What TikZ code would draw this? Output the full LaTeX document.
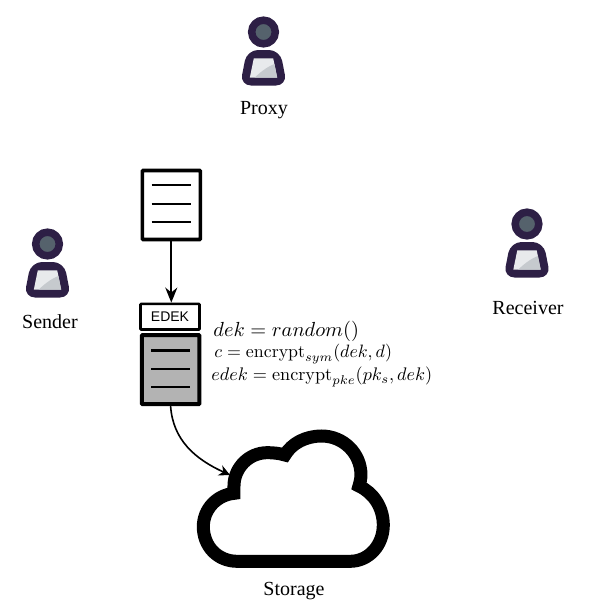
\documentclass[tikz,border=0pt]{standalone}
\usepackage{amsmath}
\usepackage[no-math]{fontspec}
\setmainfont{Liberation Serif}
\setsansfont{Liberation Sans}
\usetikzlibrary{arrows.meta}
\definecolor{persondark}{HTML}{2D1F45}
\definecolor{personhead}{HTML}{55626C}
\definecolor{screenlight}{HTML}{E8EAEC}
\definecolor{screenmid}{HTML}{C6CACE}
\definecolor{docgray}{HTML}{B3B3B3}
\tikzset{
  person/.pic={
    \draw[persondark,line width=7.5pt,fill=personhead] (0,0) circle (11.8);
    \fill[persondark,rounded corners=11pt] (-16.5,18) -- (16.5,18) -- (23.5,53.5) -- (-23.5,53.5) -- cycle;
    \fill[screenlight] (-9.7,26.3) -- (9.7,26.3) -- (13.7,45.7) -- (-13.7,45.7) -- cycle;
    \fill[screenmid] (10.9,32) .. controls (3,35) and (-4,41) .. (-9,45.7) -- (13.7,45.7) -- cycle;
  },
  who/.style={font=\fontsize{20}{22}\selectfont,text=black,inner sep=0pt},
  docbox/.style={draw=black,rounded corners=0.8pt,minimum width=58pt,minimum height=69pt,inner sep=0pt},
  docline/.style={line width=2.4pt,black},
  formula/.style={anchor=west,inner sep=0pt},
  flow/.style={black,-{Stealth[length=15pt,width=12pt]},line width=2.2pt},
  flowthin/.style={black,-{Stealth[length=11pt,width=11pt]},line width=1.6pt}
}
\begin{document}
\begin{tikzpicture}[x=1pt,y=-1pt]
\useasboundingbox (0,0) rectangle (590,614);
\fill[white] (0,0) rectangle (590,614);

\pic at (263.5,32) {person};
\pic at (47.5,244) {person};
\pic at (527,224) {person};
\node[who] (proxy) at (264,110) {Proxy};
\node[who] (sender) at (50,322) {Sender};
\node[who] (receiver) at (528,308) {Receiver};
\node[who] (storage) at (294,591.5) {Storage};

\node[docbox,line width=3.6pt,fill=white] (doc) at (171.3,205) {};
\draw[docline] (151.7,185) -- (190.7,185);
\draw[docline] (151.7,203.7) -- (190.7,203.7);
\draw[docline] (151.7,222) -- (190.7,222);

\node[draw=black,line width=2.6pt,rounded corners=0.8pt,fill=white,minimum width=59pt,minimum height=25.6pt,inner sep=0pt,font=\sffamily\fontsize{14}{16}\selectfont] (edek) at (170,316.7) {EDEK};

\node[docbox,line width=4pt,fill=docgray,minimum width=57.4pt,minimum height=69.2pt] (enc) at (170.6,369.6) {};
\draw[docline] (151,350.3) -- (190,350.3);
\draw[docline] (151,368.7) -- (190,368.7);
\draw[docline] (151,387) -- (190,387);

\draw[flow] (doc.south) -- (doc.south |- edek.north);

\coordinate (cloudentry) at (230,475);
\draw[flowthin] (enc.south) .. controls (173,440) and (195,459) .. (cloudentry);

\begin{scope}[shift={(160,400)},x=0.3333pt,y=-0.3333pt]
\draw[black,line width=13pt,line join=miter,miter limit=10,fill=white]
  (232,484) -- (570,484)
  .. controls (627,484) and (670,435) .. (670,375)
  .. controls (670,322) and (640,278) .. (597,258)
  .. controls (600,248) and (603,236) .. (603,225)
  .. controls (603,160) and (550,108) .. (485,108)
  .. controls (437,108) and (395,130) .. (375,165)
  .. controls (358,160) and (340,158) .. (322,158)
  .. controls (267,158) and (222,203) .. (222,258)
  .. controls (222,265) and (222,272) .. (222,280)
  .. controls (170,285) and (130,328) .. (130,380)
  .. controls (130,438) and (172,484) .. (232,484)
  -- cycle;
\end{scope}

\node[formula,scale=2.04] (f1) at (213,331) {$dek = random()$};
\node[formula,scale=1.79] (f2) at (214,354) {$c = \mathrm{encrypt}_{sym}(dek,d)$};
\node[formula,scale=1.82] (f3) at (211,377) {$edek = \mathrm{encrypt}_{pke}(pk_s,dek)$};
\end{tikzpicture}
\end{document}
